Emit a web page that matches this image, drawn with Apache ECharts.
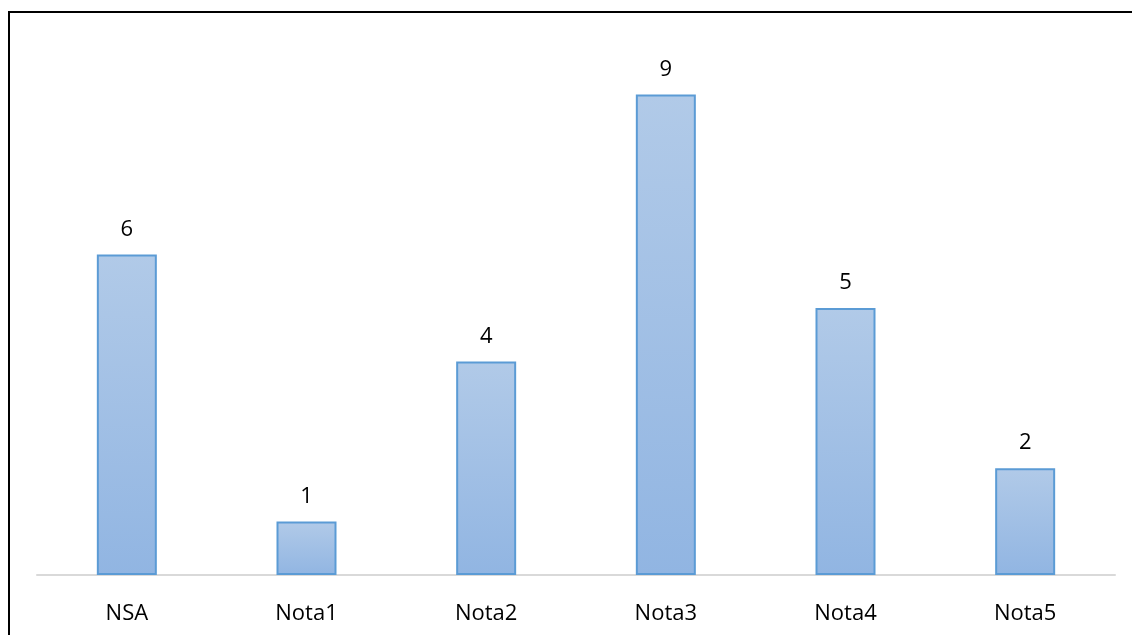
<!DOCTYPE html>
<html>
<head>
<meta charset="utf-8">
<script src="https://cdn.jsdelivr.net/npm/echarts@6/dist/echarts.min.js"></script>
<style>
  html, body { margin: 0; padding: 0; background: #fff; overflow: hidden; }
  #frame { position: absolute; left: 8px; top: 11px; width: 1200px; height: 700px;
           border-left: 2px solid #000; border-top: 2px solid #000; }
  #chart { position: absolute; left: 0; top: 0; width: 1132px; height: 635px; }
</style>
</head>
<body>
<div id="frame"></div>
<div id="chart"></div>
<script>
var categories = ["NSA", "Nota1", "Nota2", "Nota3", "Nota4", "Nota5"];
var values = [6, 1, 4, 9, 5, 2];

var myChart = echarts.init(document.getElementById("chart"));
myChart.setOption({
  animation: false,
  grid: { left: 37, right: 17, top: 41, bottom: 60 },
  xAxis: {
    type: "category",
    data: categories,
    axisLine: { lineStyle: { color: "#d9d9d9", width: 2 } },
    axisTick: { show: false },
    axisLabel: { color: "#000", fontSize: 22, fontFamily: "Open Sans", margin: 28 }
  },
  yAxis: {
    type: "value",
    min: 0,
    max: 10,
    show: false,
    splitLine: { show: false }
  },
  series: [{
    type: "bar",
    data: values,
    barWidth: 60,
    itemStyle: {
      color: new echarts.graphic.LinearGradient(0, 0, 0, 1, [
        { offset: 0, color: "#b1cae8" },
        { offset: 1, color: "#91b5e2" }
      ]),
      borderColor: "#5b9bd5",
      borderWidth: 2
    },
    label: {
      show: true,
      position: "top",
      distance: 14,
      color: "#000",
      fontSize: 22,
      fontFamily: "Open Sans"
    }
  }]
});
</script>
</body>
</html>
